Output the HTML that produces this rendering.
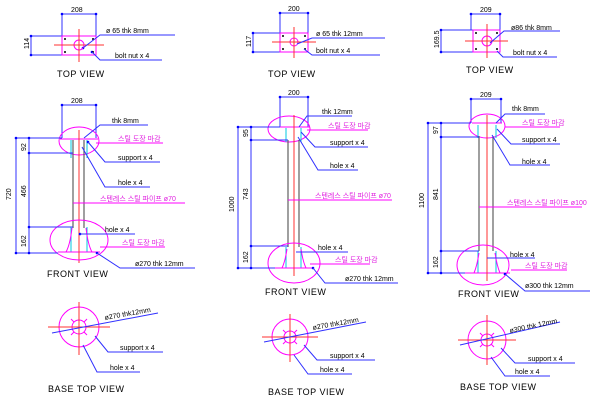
<!DOCTYPE html>
<html><head><meta charset="utf-8"><style>
html,body{margin:0;padding:0;background:#fff}
svg{display:block}
text{font-family:"Liberation Sans","Noto Sans CJK KR",sans-serif;font-size:7px;fill:#000}
.k{fill:#e020e0}
.t{font-size:9px;letter-spacing:0.5px}
.b{stroke:#3030ff;stroke-width:1;fill:none}
.m{stroke:#ff00ff;stroke-width:1;fill:none}
.r{stroke:#ff3030;stroke-width:1;fill:none}
.g{stroke:#606060;stroke-width:1.2;fill:none}
.c{stroke:#00c8e0;stroke-width:1;fill:none}
.d{fill:#0000ff}
.x{fill:#000}
</style></head><body>
<svg width="600" height="400" viewBox="0 0 600 400" xmlns="http://www.w3.org/2000/svg">
<!-- ================= COLUMN 1 ================= -->
<path class="b" d="M62,14H96M62,14V36M96,14V36M31,36V55M31,36H62M31,55H62"/>
<g class="d"><circle cx="62" cy="14" r="1.3"/><circle cx="96" cy="14" r="1.3"/><circle cx="31" cy="36" r="1.3"/><circle cx="31" cy="55" r="1.3"/><circle cx="83" cy="48" r="1.3"/><circle cx="92" cy="52" r="1.3"/></g>
<text x="71" y="12">208</text>
<text x="29" y="49" transform="rotate(-90 29 49)">114</text>
<rect x="62" y="36" width="34" height="19" class="m"/>
<circle cx="79" cy="45" r="5" class="m"/>
<path class="r" d="M54,45H104M79,29V62"/>
<g class="x"><circle cx="65" cy="39" r="1"/><circle cx="93" cy="39" r="1"/><circle cx="65" cy="52" r="1"/><circle cx="93" cy="52" r="1"/></g>
<path class="b" d="M83,48L100,35H175M92,52L100,60H162"/>
<text x="106" y="33">ø 65  thk 8mm</text>
<text x="115" y="58">bolt nut x 4</text>
<text x="57" y="77" class="t">TOP  VIEW</text>
<!-- front view -->
<path class="b" d="M62,105H96M62,105V138M96,105V138"/>
<text x="71" y="103">208</text>
<ellipse cx="79" cy="141" rx="20" ry="14" class="m"/>
<path class="g" d="M73,140V228M84,140V228"/>
<path class="c" d="M71,140V158M87,140V158M71,227V252M87,227V252"/>
<path class="m" d="M60,139H98M58,252H100M72,228Q70,245 66,252M86,228Q88,245 92,252"/>
<path class="r" d="M79,130V263"/>
<ellipse cx="79" cy="240" rx="29" ry="20" class="m"/>
<path class="b" d="M16,138V253M29,138V253M16,138H62M16,253H58M29,153H73M29,227H73"/>
<g class="d"><circle cx="16" cy="138" r="1.3"/><circle cx="16" cy="253" r="1.3"/><circle cx="29" cy="138" r="1.3"/><circle cx="29" cy="153" r="1.3"/><circle cx="29" cy="227" r="1.3"/><circle cx="29" cy="253" r="1.3"/><circle cx="62" cy="105" r="1.3"/><circle cx="96" cy="105" r="1.3"/><circle cx="97" cy="253" r="1.3"/><circle cx="80" cy="234" r="1.3"/><circle cx="88" cy="142" r="1.3"/></g>
<text x="11" y="200" transform="rotate(-90 11 200)">720</text>
<text x="26" y="151" transform="rotate(-90 26 151)">92</text>
<text x="26" y="197" transform="rotate(-90 26 197)">466</text>
<text x="26" y="247" transform="rotate(-90 26 247)">162</text>
<path class="b" d="M84,138L100,125H148M88,142L105,162H160M82,147L105,187H150M80,234H135M97,253L120,268H195"/>
<path class="m" d="M96,143H163M73,203H185M100,247H165"/>
<text x="112" y="123">thk 8mm</text>
<text x="118" y="141" class="k">스틸 도장 마감</text>
<text x="118" y="160">support x 4</text>
<text x="118" y="185">hole x 4</text>
<text x="100" y="201" class="k">스텐레스 스틸 파이프 ø70</text>
<text x="105" y="232">hole x 4</text>
<text x="122" y="245" class="k">스틸 도장 마감</text>
<text x="135" y="266">ø270 thk 12mm</text>
<text x="47" y="277" class="t">FRONT  VIEW</text>
<!-- base top -->
<circle cx="79" cy="327" r="20" class="m"/>
<circle cx="79" cy="327" r="7" class="m"/>
<path class="r" d="M48,327H110M79,302V355"/>
<path class="m" d="M71,319L74,322M87,319L84,322M71,335L74,332M87,335L84,332"/>
<path class="b" d="M52,333L158,313M95,336L108,352H163M83,345L97,372H140"/>
<text x="105" y="320" transform="rotate(-10 105 320)">ø270 thk12mm</text>
<text x="120" y="350">support x 4</text>
<text x="110" y="370">hole x 4</text>
<text x="48" y="392" class="t">BASE   TOP VIEW</text>

<!-- ================= COLUMN 2 ================= -->
<path class="b" d="M280,13H308M280,13V33M308,13V33M253,33V52M253,33H280M253,52H280"/>
<g class="d"><circle cx="280" cy="13" r="1.3"/><circle cx="308" cy="13" r="1.3"/><circle cx="253" cy="33" r="1.3"/><circle cx="253" cy="52" r="1.3"/></g>
<text x="288" y="11">200</text>
<text x="251" y="47" transform="rotate(-90 251 47)">117</text>
<rect x="280" y="33" width="28" height="19" class="m"/>
<circle cx="294" cy="42" r="4" class="m"/>
<path class="r" d="M272,42H316M294,27V58"/>
<g class="x"><circle cx="283" cy="36" r="1"/><circle cx="305" cy="36" r="1"/><circle cx="283" cy="49" r="1"/><circle cx="305" cy="49" r="1"/></g>
<path class="b" d="M297,44L312,38H385M304,49L312,55H380"/>
<text x="316" y="36">ø 65  thk 12mm</text>
<text x="316" y="53">bolt nut x 4</text>
<text x="268" y="77" class="t">TOP  VIEW</text>
<!-- front -->
<path class="b" d="M280,97H308M280,97V127M308,97V127"/>
<text x="288" y="95">200</text>
<ellipse cx="289" cy="129" rx="21" ry="13" class="m"/>
<path class="g" d="M288,140V247M299,140V247"/>
<path class="c" d="M286,128V142M301,128V142M286,247V268M301,247V268"/>
<path class="m" d="M278,127H310M275,268H312M287,249Q285,262 282,268M301,249Q303,262 306,268"/>
<path class="r" d="M294,115V276"/>
<ellipse cx="294" cy="263" rx="26" ry="20" class="m"/>
<path class="b" d="M238,127V268M251,127V268M238,127H280M238,268H275M251,140H288M251,246H288"/>
<g class="d"><circle cx="238" cy="127" r="1.3"/><circle cx="238" cy="268" r="1.3"/><circle cx="251" cy="127" r="1.3"/><circle cx="251" cy="140" r="1.3"/><circle cx="251" cy="246" r="1.3"/><circle cx="251" cy="268" r="1.3"/><circle cx="280" cy="97" r="1.3"/><circle cx="308" cy="97" r="1.3"/><circle cx="313" cy="268" r="1.3"/></g>
<text x="234" y="212" transform="rotate(-90 234 212)">1000</text>
<text x="248" y="137" transform="rotate(-90 248 137)">95</text>
<text x="248" y="200" transform="rotate(-90 248 200)">743</text>
<text x="248" y="263" transform="rotate(-90 248 263)">162</text>
<path class="b" d="M299,127L307,116H352M301,132L315,147H368M298,137L318,170H358M296,252H348M313,268L325,283H398"/>
<path class="m" d="M307,130H368M288,200H392M310,264H370"/>
<text x="322" y="114">thk 12mm</text>
<text x="328" y="128" class="k">스틸 도장 마감</text>
<text x="330" y="145">support x 4</text>
<text x="330" y="168">hole x 4</text>
<text x="315" y="198" class="k">스텐레스 스틸 파이프 ø70</text>
<text x="318" y="250">hole x 4</text>
<text x="335" y="262" class="k">스틸 도장 마감</text>
<text x="345" y="281">ø270 thk 12mm</text>
<text x="265" y="295" class="t">FRONT  VIEW</text>
<!-- base -->
<circle cx="290" cy="337" r="18" class="m"/>
<circle cx="290" cy="337" r="6" class="m"/>
<path class="r" d="M262,337H318M290,314V362"/>
<path class="m" d="M283,330L286,333M297,330L294,333M283,344L286,341M297,344L294,341"/>
<path class="b" d="M264,342L366,322M304,345L317,360H375M294,355L308,374H352"/>
<text x="313" y="330" transform="rotate(-10 313 330)">ø270 thk12mm</text>
<text x="330" y="358">support x 4</text>
<text x="320" y="372">hole x 4</text>
<text x="268" y="395" class="t">BASE   TOP VIEW</text>

<!-- ================= COLUMN 3 ================= -->
<path class="b" d="M471,14H500M471,14V30M500,14V30M441,30V52M441,30H473M441,52H473"/>
<g class="d"><circle cx="471" cy="14" r="1.3"/><circle cx="500" cy="14" r="1.3"/><circle cx="441" cy="30" r="1.3"/><circle cx="441" cy="52" r="1.3"/></g>
<text x="480" y="12">209</text>
<text x="439" y="48" transform="rotate(-90 439 48)">169.5</text>
<rect x="473" y="30" width="27" height="22" class="m"/>
<circle cx="487" cy="41" r="5" class="m"/>
<path class="r" d="M465,41H508M487,24V58"/>
<g class="x"><circle cx="476" cy="33" r="1"/><circle cx="497" cy="33" r="1"/><circle cx="476" cy="49" r="1"/><circle cx="497" cy="49" r="1"/></g>
<path class="b" d="M490,43L504,31H560M497,51L503,57H557"/>
<text x="511" y="30">ø86  thk 8mm</text>
<text x="513" y="55">bolt nut x 4</text>
<text x="466" y="73" class="t">TOP  VIEW</text>
<!-- front -->
<path class="b" d="M471,99H501M471,99V123M501,99V123"/>
<text x="480" y="97">209</text>
<ellipse cx="487" cy="126" rx="18" ry="12" class="m"/>
<path class="g" d="M479,136V251M493,136V251"/>
<path class="c" d="M478,125V138M496,125V138M478,251V273M496,251V273"/>
<path class="m" d="M472,123H502M465,273H510M479,253Q477,266 474,273M495,253Q497,266 500,273"/>
<path class="r" d="M487,115V281"/>
<ellipse cx="483" cy="265" rx="26" ry="20" class="m"/>
<path class="b" d="M428,123V273M441,123V273M428,123H471M428,273H465M441,137H479M441,251H479"/>
<g class="d"><circle cx="428" cy="123" r="1.3"/><circle cx="428" cy="273" r="1.3"/><circle cx="441" cy="123" r="1.3"/><circle cx="441" cy="137" r="1.3"/><circle cx="441" cy="251" r="1.3"/><circle cx="441" cy="273" r="1.3"/><circle cx="471" cy="99" r="1.3"/><circle cx="501" cy="99" r="1.3"/><circle cx="505" cy="274" r="1.3"/></g>
<text x="424" y="208" transform="rotate(-90 424 208)">1100</text>
<text x="438" y="134" transform="rotate(-90 438 134)">97</text>
<text x="438" y="200" transform="rotate(-90 438 200)">841</text>
<text x="438" y="268" transform="rotate(-90 438 268)">162</text>
<path class="b" d="M496,123L505,114H545M497,129L511,144H560M492,135L510,165H550M487,258H535M505,274L525,291H590"/>
<path class="m" d="M505,127H560M479,207H582M511,270H567"/>
<text x="512" y="111">thk 8mm</text>
<text x="522" y="125" class="k">스틸 도장 마감</text>
<text x="522" y="142">support x 4</text>
<text x="522" y="164">hole x 4</text>
<text x="507" y="205" class="k">스텐레스 스틸 파이프 ø100</text>
<text x="510" y="257">hole x 4</text>
<text x="525" y="268" class="k">스틸 도장 마감</text>
<text x="525" y="288">ø300 thk 12mm</text>
<text x="458" y="297" class="t">FRONT  VIEW</text>
<!-- base -->
<circle cx="487" cy="340" r="19" class="m"/>
<circle cx="487" cy="340" r="6" class="m"/>
<path class="r" d="M458,340H516M487,315V365"/>
<path class="m" d="M480,333L483,336M494,333L491,336M480,347L483,344M494,347L491,344"/>
<path class="b" d="M460,345L560,322M501,348L515,363H575M491,357L505,376H550"/>
<text x="510" y="333" transform="rotate(-12 510 333)">ø300 thk 12mm</text>
<text x="528" y="361">support x 4</text>
<text x="515" y="374">hole x 4</text>
<text x="460" y="390" class="t">BASE   TOP VIEW</text>
</svg>
</body></html>
